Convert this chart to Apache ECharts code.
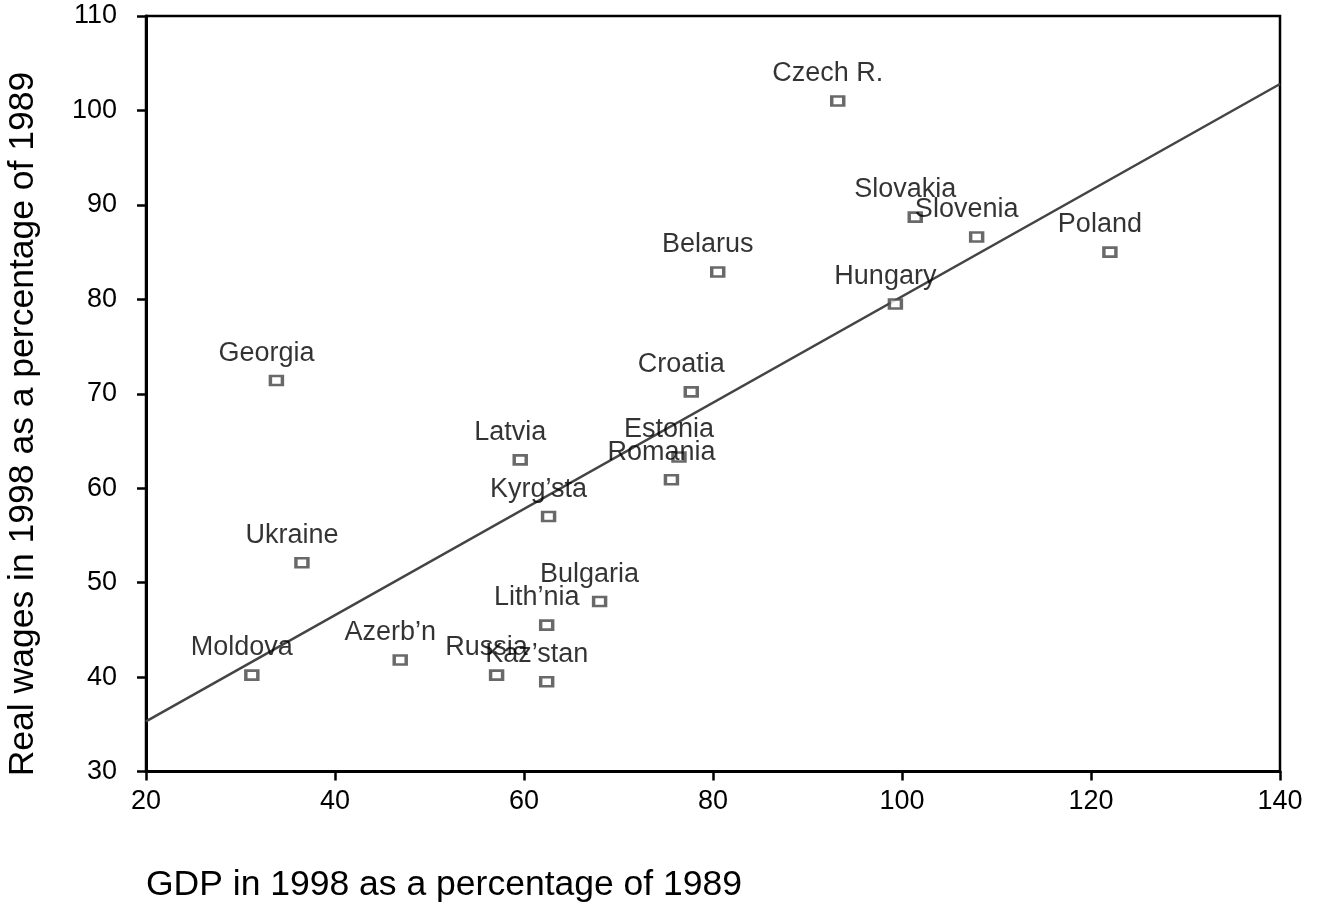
<!DOCTYPE html>
<html>
<head>
<meta charset="utf-8">
<script src="https://cdn.jsdelivr.net/npm/echarts@6/dist/echarts.min.js"></script>
<style>
html,body{margin:0;padding:0;background:#fff;}
#chart{width:1319px;height:910px;}
</style>
</head>
<body>
<div id="chart"></div>
<script>
var countries = ["Czech R.","Slovakia","Slovenia","Poland","Belarus","Hungary","Georgia","Croatia","Latvia","Estonia","Romania","Kyrg\u2019sta","Ukraine","Bulgaria","Lith\u2019nia","Moldova","Azerb\u2019n","Russia","Kaz\u2019stan"];
var gdp =   [93.2, 101.4, 107.9, 122.0, 80.5, 99.3, 33.8, 77.7, 59.6, 76.4, 75.6, 62.6, 36.5, 68.0, 62.4, 31.2, 46.9, 57.1, 62.4];
var wages = [101.0, 88.7, 86.6, 85.0, 82.9, 79.5, 71.4, 70.2, 63.0, 63.3, 60.9, 57.0, 52.1, 48.0, 45.5, 40.2, 41.8, 40.2, 39.5];
var fitX = [20, 140];
var fitY = [35.3, 102.8];
var xTicks = [20, 40, 60, 80, 100, 120, 140];
var yTicks = [30, 40, 50, 60, 70, 80, 90, 100, 110];
var xTitle = 'GDP in 1998 as a percentage of 1989';
var yTitle = 'Real wages in 1998 as a percentage of 1989';

var FONT = "'Liberation Sans', Arial, sans-serif";
var pts = countries.map(function(c, i){ return {name: c, value: [gdp[i], wages[i]]}; });
var fitLine = fitX.map(function(x, i){ return [x, fitY[i]]; });

var chart = echarts.init(document.getElementById('chart'));
chart.setOption({
  backgroundColor: '#fff',
  animation: false,
  grid: {left: 146, right: 39, top: 16, bottom: 138.5, show: true, borderColor: '#000', borderWidth: 2.5, backgroundColor: 'transparent'},
  xAxis: {
    type: 'value', min: xTicks[0], max: xTicks[xTicks.length-1], interval: 20,
    axisLine: {show: true, onZero: false, lineStyle: {color: '#000', width: 3}},
    axisTick: {show: true, length: 9, lineStyle: {color: '#000', width: 2.5}},
    axisLabel: {color: '#000', fontSize: 27, fontFamily: FONT, margin: 17},
    splitLine: {show: false}
  },
  yAxis: {
    type: 'value', min: yTicks[0], max: yTicks[yTicks.length-1], interval: 10,
    axisLine: {show: true, onZero: false, lineStyle: {color: '#000', width: 3}},
    axisTick: {show: true, length: 9, lineStyle: {color: '#000', width: 2.5}},
    axisLabel: {color: '#000', fontSize: 27, fontFamily: FONT, margin: 29},
    splitLine: {show: false}
  },
  graphic: [{
    type: 'text', left: 146, top: 867,
    style: {text: xTitle, fill: '#000', font: "35.5px 'Liberation Sans', Arial, sans-serif"}
  }, {
    type: 'text', x: 23, y: 424, rotation: Math.PI / 2,
    style: {text: yTitle, fill: '#000', font: "35.5px 'Liberation Sans', Arial, sans-serif",
      textAlign: 'center', textVerticalAlign: 'middle'}
  }],
  series: [
    {
      type: 'line', data: fitLine, symbol: 'none', silent: true,
      lineStyle: {color: '#444', width: 2.5}, z: 1
    },
    {
      type: 'scatter', data: pts, symbol: 'rect', symbolSize: [12, 9],
      itemStyle: {color: '#fff', borderColor: '#444', borderWidth: 3},
      label: {show: true, position: 'top', distance: 5, offset: [-10, -3], formatter: '{b}',
        color: '#000', fontSize: 27, fontFamily: FONT},
      z: 3
    }
  ]
});
</script>
</body>
</html>
